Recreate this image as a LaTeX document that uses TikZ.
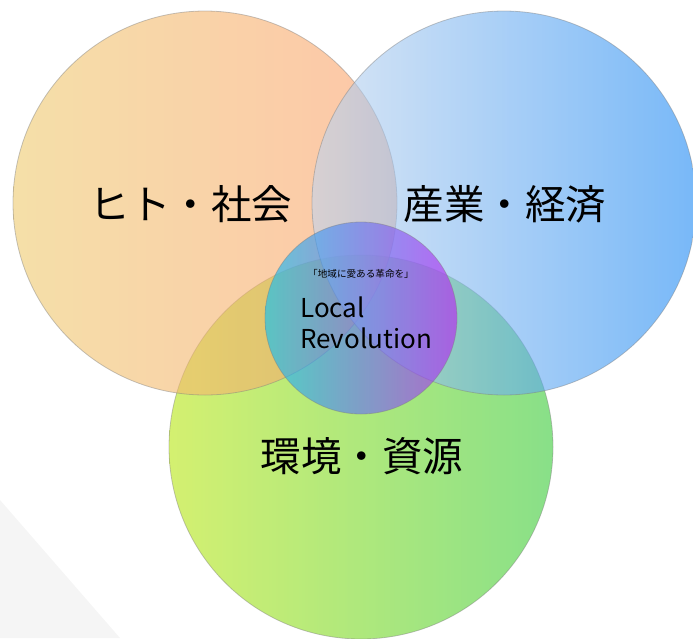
\documentclass[tikz,border=0pt]{standalone}
\usepackage{fontspec}
\setmainfont{Noto Sans CJK JP}
\definecolor{orL}{RGB}{238,202,110}
\definecolor{orR}{RGB}{252,160,110}
\definecolor{blL}{RGB}{193,213,238}
\definecolor{blR}{RGB}{30,137,243}
\definecolor{grL}{RGB}{183,230,17}
\definecolor{grR}{RGB}{57,203,57}
\definecolor{ceL}{RGB}{20,195,240}
\definecolor{ceR}{RGB}{185,40,240}
\definecolor{tri}{RGB}{245,245,245}
\tikzset{
  venn/.style={circle, inner sep=0pt, minimum size=384pt, fill opacity=0.6,
    draw=gray, draw opacity=0.45, line width=0.8pt},
  core/.style={circle, inner sep=0pt, minimum size=192pt, fill opacity=0.65,
    draw=gray, draw opacity=0.45, line width=0.8pt},
  biglabel/.style={font=\fontsize{40.5}{43}\selectfont, text=black, inner sep=0pt},
}
\begin{document}
\begin{tikzpicture}[x=1pt,y=-1pt]
\useasboundingbox (0,0) rectangle (693,638);
\fill[tri] (0,500) -- (120,638) -- (0,638) -- cycle;
\node[venn, left color=grL, right color=grR] (env) at (361,447) {};
\node[venn, left color=orL, right color=orR] (soc) at (205,203) {};
\node[venn, left color=blL, right color=blR] (eco) at (504,203) {};
\node[core, left color=ceL, right color=ceR] (core) at (361,318) {};
\node[biglabel] (tsoc) at (191,204) {ヒト・社会};
\node[biglabel] (teco) at (505,204) {産業・経済};
\node[biglabel] (tenv) at (362,456) {環境・資源};
\node[font=\fontsize{9.6}{11}\selectfont, inner sep=0pt] (motto) at (361,274) {「地域に愛ある革命を」};
\node[font=\fontsize{26}{31}\selectfont, align=left, inner sep=0pt, anchor=north west] (lr) at (300,297) {Local\\Revolution};
\end{tikzpicture}
\end{document}
